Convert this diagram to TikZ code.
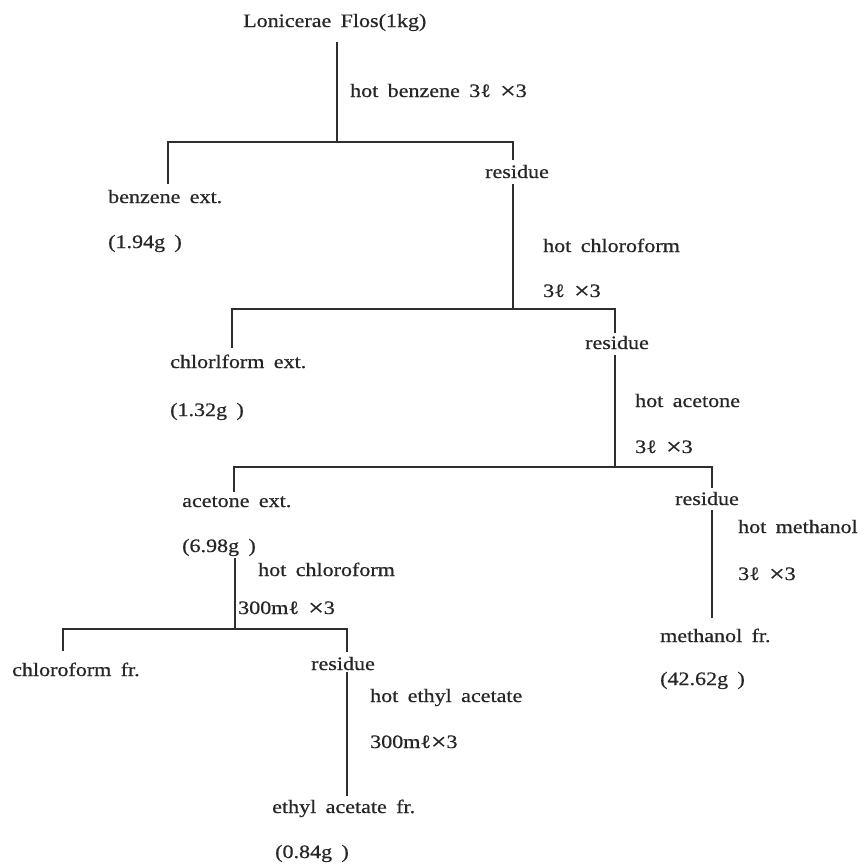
\documentclass[tikz,border=0pt]{standalone}
\usepackage{fontspec}
\setmainfont[FakeStretch=1.16,WordSpace=1.7,FakeBold=0.6]{Liberation Serif}
\newcommand{\tms}{\raisebox{-1.6pt}{\scalebox{1.25}{×}}}
\begin{document}
\begin{tikzpicture}[x=1pt,y=-1pt,
  lbl/.style={inner sep=0pt,anchor=base west,text=black!85,font=\fontsize{19}{22}\selectfont},
  ln/.style={line width=1.7pt,draw=black!82}]
\useasboundingbox (0,0) rectangle (865,865);
% texts
\node[lbl] (title) at (243,27) {Lonicerae Flos(1kg)};
\node[lbl] (s1) at (350,97) {hot benzene 3ℓ \tms3};
\node[lbl] (be) at (108,203) {benzene ext.};
\node[lbl] (bem) at (108,248) {(1.94g )};
\node[lbl] (r1) at (485,178) {residue};
\node[lbl] (s2a) at (543,252) {hot chloroform};
\node[lbl] (s2b) at (543,297) {3ℓ \tms3};
\node[lbl] (ce) at (170,368) {chlorlform ext.};
\node[lbl] (cem) at (170,416) {(1.32g )};
\node[lbl] (r2) at (585,349) {residue};
\node[lbl] (s3a) at (635,407) {hot acetone};
\node[lbl] (s3b) at (635,453) {3ℓ \tms3};
\node[lbl] (ae) at (182,507) {acetone ext.};
\node[lbl] (aem) at (182,552) {(6.98g )};
\node[lbl] (s4a) at (258,576) {hot chloroform};
\node[lbl] (s4b) at (238,614) {300mℓ \tms3};
\node[lbl] (r3) at (675,505) {residue};
\node[lbl] (s5a) at (738,533) {hot methanol};
\node[lbl] (s5b) at (738,580) {3ℓ \tms3};
\node[lbl] (mf) at (660,642) {methanol fr.};
\node[lbl] (mfm) at (660,685) {(42.62g )};
\node[lbl] (cf) at (12,676) {chloroform fr.};
\node[lbl] (r4) at (311,670) {residue};
\node[lbl] (s6a) at (370,702) {hot ethyl acetate};
\node[lbl] (s6b) at (370,748) {300mℓ\tms3};
\node[lbl] (ef) at (272,813) {ethyl acetate fr.};
\node[lbl] (efm) at (275,858) {(0.84g )};
% junction coordinates
\coordinate (a0) at (337,42);   \coordinate (a1) at (337,142);
\coordinate (b0) at (168,184);  \coordinate (b1) at (168,142);
\coordinate (b2) at (513,142);  \coordinate (b3) at (513,160);
\coordinate (c0) at (513,184);  \coordinate (c1) at (513,309);
\coordinate (d0) at (232,348);  \coordinate (d1) at (232,309);
\coordinate (d2) at (615,309);  \coordinate (d3) at (615,333);
\coordinate (e0) at (615,355);  \coordinate (e1) at (615,467);
\coordinate (f0) at (234,492);  \coordinate (f1) at (234,467);
\coordinate (f2) at (712,467);  \coordinate (f3) at (712,488);
\coordinate (g0) at (235,558);  \coordinate (g1) at (235,629);
\coordinate (h0) at (63,651);   \coordinate (h1) at (63,629);
\coordinate (h2) at (347,629);  \coordinate (h3) at (347,652);
\coordinate (i0) at (347,672);  \coordinate (i1) at (347,796);
\coordinate (k0) at (712,510);  \coordinate (k1) at (712,618);
% connectors
\draw[ln] (a0) -- (a1);
\draw[ln] (b0) -- (b1) -- (b2) -- (b3);
\draw[ln] (c0) -- (c1);
\draw[ln] (d0) -- (d1) -- (d2) -- (d3);
\draw[ln] (e0) -- (e1);
\draw[ln] (f0) -- (f1) -- (f2) -- (f3);
\draw[ln] (g0) -- (g1);
\draw[ln] (h0) -- (h1) -- (h2) -- (h3);
\draw[ln] (i0) -- (i1);
\draw[ln] (k0) -- (k1);
\end{tikzpicture}
\end{document}
